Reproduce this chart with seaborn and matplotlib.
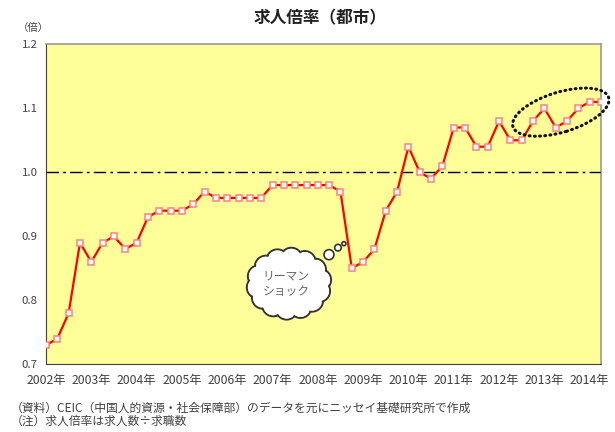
import numpy as np
import pandas as pd
import matplotlib
matplotlib.use("Agg")
import matplotlib.pyplot as plt
import matplotlib.transforms as mtransforms
from matplotlib.patches import Ellipse, Circle
import seaborn as sns

# ---- data (quarterly, 2002Q1 - 2014Q2) ----
year_labels = ["2002年", "2003年", "2004年", "2005年", "2006年", "2007年", "2008年",
               "2009年", "2010年", "2011年", "2012年", "2013年", "2014年"]
ratio = [0.73, 0.74, 0.78, 0.89, 0.86, 0.89, 0.90, 0.88, 0.89, 0.93,
         0.94, 0.94, 0.94, 0.95, 0.97, 0.96, 0.96, 0.96, 0.96, 0.96,
         0.98, 0.98, 0.98, 0.98, 0.98, 0.98, 0.97, 0.85, 0.86, 0.88,
         0.94, 0.97, 1.04, 1.00, 0.99, 1.01, 1.07, 1.07, 1.04, 1.04,
         1.08, 1.05, 1.05, 1.08, 1.10, 1.07, 1.08, 1.10, 1.11, 1.11]
y_ticks = [0.7, 0.8, 0.9, 1.0, 1.1, 1.2]
y_tick_labels = ["0.7", "0.8", "0.9", "1.0", "1.1", "1.2"]
title = "求人倍率（都市）"
unit = "（倍）"
note1 = "（資料）CEIC（中国人的資源・社会保障部）のデータを元にニッセイ基礎研究所で作成"
note2 = "（注）求人倍率は求人数÷求職数"
cloud_text = "リーマン\nショック"

df = pd.DataFrame({"q": np.arange(len(ratio)), "ratio": ratio})

sns.set_theme(style="white")
plt.rcParams["font.family"] = ["Noto Sans CJK JP", "DejaVu Sans"]

fig = plt.figure(figsize=(6.15, 4.32), dpi=100)
ax = fig.add_axes([46 / 615, 1 - 364.3 / 432, (601 - 46) / 615, (364.3 - 44.3) / 432])
ax.set_facecolor("#FFFF99")

sns.lineplot(data=df, x="q", y="ratio", ax=ax, color="#FF0000", linewidth=1.6,
             marker="s", markersize=5, markerfacecolor="white",
             markeredgecolor="#FF8080", markeredgewidth=1.1, zorder=4)

ax.axhline(1.0, color="black", linewidth=1.0, linestyle=(0, (9, 3, 2, 3)), zorder=3)

ax.set_xlim(0, len(ratio) - 1)
ax.set_ylim(0.7, 1.2)
ax.set_xticks(np.arange(0, 4 * len(year_labels), 4))
ax.set_xticklabels(year_labels)
ax.set_yticks(y_ticks)
ax.set_yticklabels(y_tick_labels)
ax.set_xlabel("")
ax.set_ylabel("")
ax.tick_params(axis="both", direction="out", length=4, width=0.8, color="#404040",
               labelsize=8.2, labelcolor="#404040", pad=2)
ax.tick_params(axis="x", pad=3, labelsize=8.8)
for side in ["top", "right"]:
    ax.spines[side].set_color("#999999")
    ax.spines[side].set_linewidth(1.2)
for side in ["left", "bottom"]:
    ax.spines[side].set_color("#404040")
    ax.spines[side].set_linewidth(0.8)

# title and unit
fig.text(320 / 615, 1 - 18 / 432, title, ha="center", va="center",
         fontsize=12, fontweight="bold", color="#222222")
fig.text(33 / 615, 1 - 28 / 432, unit, ha="center", va="center",
         fontsize=7.5, color="#404040")

# footnotes
fig.text(11 / 615, 1 - 408 / 432, note1, ha="left", va="center", fontsize=8.5, color="#404040")
fig.text(11 / 615, 1 - 421 / 432, note2, ha="left", va="center", fontsize=8.5, color="#404040")

# ---- thought cloud (Lehman shock) anchored near the 2008 drop ----
cx, cy = 21.45, 0.826
ctrans = fig.dpi_scale_trans + mtransforms.ScaledTranslation(cx, cy, ax.transData)
a, b, r = 0.315, 0.25, 0.11
n = 14
angles = np.linspace(0, 2 * np.pi, n, endpoint=False) + 0.15
for t in angles:
    ax.add_patch(Circle((a * np.cos(t), b * np.sin(t)), r, transform=ctrans,
                        facecolor="white", edgecolor="#333333", linewidth=1.4,
                        zorder=5, clip_on=False))
for t in angles:
    ax.add_patch(Circle((a * np.cos(t), b * np.sin(t)), r - 0.012, transform=ctrans,
                        facecolor="white", edgecolor="none", zorder=6, clip_on=False))
ax.add_patch(Ellipse((0, 0), 2 * a + 0.05, 2 * b + 0.05, transform=ctrans,
                     facecolor="white", edgecolor="none", zorder=6))
for (bx, by, br) in [(0.40, 0.29, 0.05), (0.49, 0.36, 0.033), (0.55, 0.40, 0.02)]:
    ax.add_patch(Circle((bx, by), br, transform=ctrans, facecolor="white",
                        edgecolor="#333333", linewidth=1.2, zorder=6))
ax.text(-0.03, 0.0, cloud_text, transform=ctrans, ha="center", va="center",
        fontsize=8.5, color="#666666", zorder=7, linespacing=1.3)

# ---- dotted ellipse around recent highs ----
ex, ey = 45.45, 1.094
etrans = fig.dpi_scale_trans + mtransforms.ScaledTranslation(ex, ey, ax.transData)
ell = Ellipse((0, 0), 1.0, 0.40, angle=17, transform=etrans, facecolor="none",
              edgecolor="#111111", linewidth=2.2, linestyle=(0, (0.3, 1.4)),
              zorder=8, clip_on=False)
ell.set_capstyle("round")
ax.add_patch(ell)

fig.savefig("out.png", dpi=100)
